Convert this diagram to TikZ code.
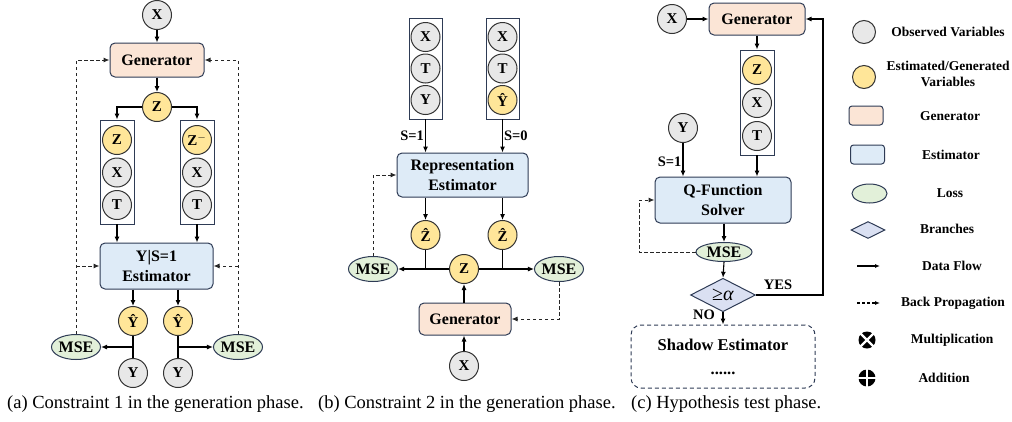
\documentclass[tikz,border=0pt]{standalone}
\usepackage{fontspec}
\setmainfont{Liberation Serif}
\usetikzlibrary{arrows.meta,shapes.geometric}

\definecolor{edgec}{HTML}{2E3B55}
\definecolor{obsfill}{HTML}{E8E8E8}
\definecolor{varfill}{HTML}{FFE699}
\definecolor{genfill}{HTML}{FBE5D6}
\definecolor{estfill}{HTML}{DEEBF7}
\definecolor{lossfill}{HTML}{E2F0D9}
\definecolor{brfill}{HTML}{DAE0F2}

\tikzset{
  obs/.style={circle, draw=black!80, fill=obsfill, line width=1pt,
    minimum size=29pt, inner sep=0pt, font=\fontsize{15}{15}\selectfont\bfseries},
  gvar/.style={obs, fill=varfill},
  colbox/.style={rectangle, draw=edgec, fill=white, line width=0.95pt, inner sep=0pt},
  genblk/.style={rectangle, rounded corners=5pt, draw=edgec, fill=genfill, line width=1pt,
    align=center, inner sep=0pt, font=\fontsize{16}{20}\selectfont\bfseries},
  estblk/.style={genblk, fill=estfill},
  loss/.style={ellipse, draw=edgec, fill=lossfill, line width=1pt, inner sep=0pt,
    minimum width=48pt, minimum height=25pt, font=\fontsize{16}{18}\selectfont\bfseries},
  branch/.style={diamond, draw=edgec, fill=brfill, line width=1pt, inner sep=0pt,
    font=\fontsize{20}{20}\selectfont},
  flow/.style={-{Latex[length=6pt,width=5pt]}, line width=1.1pt},
  back/.style={-{Latex[length=6pt,width=5pt]}, line width=1pt, draw=black!85,
    dash pattern=on 3.5pt off 2.5pt},
  lbl/.style={font=\fontsize{14.5}{16}\selectfont\bfseries, inner sep=1pt},
  legtxt/.style={font=\fontsize{13.5}{16}\selectfont\bfseries, align=center, inner sep=0pt},
  caption/.style={font=\fontsize{18.5}{20}\selectfont, anchor=west, inner sep=0pt},
}

\begin{document}
\begin{tikzpicture}[x=1pt, y=-1pt]
\useasboundingbox (0,0) rectangle (1012,421);

% ---------------- (a) Constraint 1 ----------------
\node[obs] (aX) at (157,15) {X};
\node[genblk, minimum width=94pt, minimum height=34pt] (aG) at (157,60) {Generator};
\node[gvar] (aZ) at (157,107) {Z};
\node[colbox, minimum width=34pt, minimum height=104pt] (aL) at (117,172) {};
\node[colbox, minimum width=34pt, minimum height=104pt] (aR) at (197,172) {};
\node[gvar] (aL1) at (117,140) {Z};
\node[obs]  (aL2) at (117,172.5) {X};
\node[obs]  (aL3) at (117,205) {T};
\node[gvar] (aR1) at (197,140) {Z$^{-}$};
\node[obs]  (aR2) at (197,172.5) {X};
\node[obs]  (aR3) at (197,205) {T};
\node[estblk, minimum width=113pt, minimum height=46pt] (aE) at (156.5,266) {Y|S=1\\Estimator};
\node[gvar] (aH1) at (133,321) {Ŷ};
\node[gvar] (aH2) at (178,321) {Ŷ};
\node[obs]  (aY1) at (133,373) {Y};
\node[obs]  (aY2) at (178,373) {Y};
\node[loss] (aM1) at (76,347) {MSE};
\node[loss] (aM2) at (238,347) {MSE};

\draw[flow] (aX) -- (aG);
\draw[flow] (aG) -- (aZ);
\draw[flow] (aZ.west) -| (aL.north);
\draw[flow] (aZ.east) -| (aR.north);
\draw[flow] (aL.south) -- (aL.south |- aE.north);
\draw[flow] (aR.south) -- (aR.south |- aE.north);
\draw[flow] (aE.south -| aH1) -- (aH1);
\draw[flow] (aE.south -| aH2) -- (aH2);
\draw[line width=1.1pt] (aH1) -- (aY1);
\draw[line width=1.1pt] (aH2) -- (aY2);
\draw[flow] (aH1 |- aM1) -- (aM1.east);
\draw[flow] (aH2 |- aM2) -- (aM2.west);
\draw[back] (aM1.north) -- (aM1.north |- aG.west) -- (aG.west);
\draw[back] (aM1.north |- aE.west) -- (aE.west);
\draw[back] (aM2.north) -- (aM2.north |- aG.east) -- (aG.east);
\draw[back] (aM2.north |- aE.east) -- (aE.east);

\node[caption] (capA) at (7,404) {(a) Constraint 1 in the generation phase.};

% ---------------- (b) Constraint 2 ----------------
\node[colbox, minimum width=33pt, minimum height=101pt] (bL) at (425.5,68.5) {};
\node[colbox, minimum width=33pt, minimum height=101pt] (bR) at (502.5,68.5) {};
\node[obs]  (bL1) at (425.5,37) {X};
\node[obs]  (bL2) at (425.5,68.5) {T};
\node[obs]  (bL3) at (425.5,100) {Y};
\node[obs]  (bR1) at (502.5,37) {X};
\node[obs]  (bR2) at (502.5,68.5) {T};
\node[gvar] (bR3) at (502.5,100) {Ŷ};
\node[estblk, minimum width=131pt, minimum height=44pt] (bE) at (462.5,175) {Representation\\Estimator};
\node[gvar] (bH1) at (425.5,235) {Ẑ};
\node[gvar] (bH2) at (502.5,235) {Ẑ};
\node[gvar] (bZ) at (464,269) {Z};
\node[loss] (bM1) at (373,269) {MSE};
\node[loss] (bM2) at (559,269) {MSE};
\node[genblk, minimum width=92pt, minimum height=32pt] (bG) at (465,319) {Generator};
\node[obs]  (bX) at (464,366) {X};

\draw[flow] (bL.south) -- (bL.south |- bE.north) node[lbl, midway, left] {S=1};
\draw[flow] (bR.south) -- (bR.south |- bE.north) node[lbl, midway, right] {S=0};
\draw[flow] (bE.south -| bH1) -- (bH1);
\draw[flow] (bE.south -| bH2) -- (bH2);
\draw[line width=1.1pt] (bH1) -- (bH1 |- bZ);
\draw[line width=1.1pt] (bH2) -- (bH2 |- bZ);
\draw[flow] (bZ.west) -- (bM1.east);
\draw[flow] (bZ.east) -- (bM2.west);
\draw[flow] (bG.north -| bZ) -- (bZ);
\draw[flow] (bX) -- (bX |- bG.south);
\draw[back] (bM2.south) |- (bG.east);
\draw[back] (bM1.north) |- (bE.west);

\node[caption] (capB) at (318,404) {(b) Constraint 2 in the generation phase.};

% ---------------- (c) Hypothesis test ----------------
\node[obs] (cX) at (672,19) {X};
\node[genblk, minimum width=96pt, minimum height=32pt] (cG) at (757,19) {Generator};
\node[colbox, minimum width=34pt, minimum height=105pt] (cC) at (757,102.5) {};
\node[gvar] (cC1) at (757,70) {Z};
\node[obs]  (cC2) at (757,103) {X};
\node[obs]  (cC3) at (757,136) {T};
\node[obs]  (cY) at (683,128) {Y};
\node[estblk, minimum width=136pt, minimum height=46pt] (cQ) at (723,200) {Q-Function\\Solver};
\node[loss, minimum width=56pt, minimum height=19pt] (cM) at (724,252) {MSE};
\node[branch, minimum width=65pt, minimum height=26pt] (cD) at (723,295) {≥\textit{α}};
\node[rectangle, rounded corners=10pt, draw=edgec, line width=1pt, dash pattern=on 4pt off 3pt,
  minimum width=184pt, minimum height=63pt, align=center,
  font=\fontsize{16.5}{24}\selectfont\bfseries] (cS) at (723,356.5) {Shadow Estimator\\......};
\coordinate (cBk) at (639,252);
\coordinate (cYes) at (823,295);

\draw[flow] (cX) -- (cG);
\draw[flow] (cG.south) -- (cC.north);
\draw[flow] (cC.south) -- (cC.south |- cQ.north);
\draw[flow] (cY) -- (cY |- cQ.north) node[lbl, pos=0.55, left] {S=1};
\draw[flow] (cQ.south -| cM) -- (cM.north);
\draw[back] (cM.west) -- (cBk) |- (cQ.west);
\draw[flow] (cM.south) -- (cD.north);
\draw[flow] (cD.east) -- (cYes) |- (cG.east);
\node[lbl] (cYesL) at (778,285) {YES};
\draw[flow] (cD.south) -- (cS.north);
\node[lbl] (cNoL) at (704,315) {NO};

\node[caption] (capC) at (631,404) {(c) Hypothesis test phase.};

% ---------------- legend ----------------
\node[obs, minimum size=23pt] (lgObs) at (864,32) {};
\node[gvar, minimum size=23pt] (lgVar) at (864,77) {};
\node[genblk, rounded corners=3pt, minimum width=34pt, minimum height=19pt] (lgGen) at (866,115.5) {};
\node[estblk, rounded corners=3pt, minimum width=34pt, minimum height=19pt] (lgEst) at (867.5,154.5) {};
\node[loss, minimum width=35pt, minimum height=19pt] (lgLoss) at (869.5,193.5) {};
\node[branch, minimum width=34pt, minimum height=17pt] (lgBr) at (868,230) {};
\coordinate (lgF1) at (857,266);
\coordinate (lgF2) at (880,266);
\coordinate (lgB1) at (857,303);
\coordinate (lgB2) at (880,303);
\draw[-{Latex[length=5pt,width=4pt]}, line width=1.1pt] (lgF1) -- (lgF2);
\draw[-{Latex[length=5pt,width=4pt]}, line width=1.1pt, dash pattern=on 3pt off 2pt] (lgB1) -- (lgB2);
\node[circle, fill=black, minimum size=17pt, inner sep=0pt] (lgMul) at (867,340) {};
\draw[white, line width=2.4pt] ([shift={(-6.5,-6.5)}]lgMul.center) -- ([shift={(6.5,6.5)}]lgMul.center);
\draw[white, line width=2.4pt] ([shift={(-6.5,6.5)}]lgMul.center) -- ([shift={(6.5,-6.5)}]lgMul.center);
\node[circle, fill=black, minimum size=17pt, inner sep=0pt] (lgAdd) at (867,378) {};
\draw[white, line width=2.4pt] ([shift={(-9,0)}]lgAdd.center) -- ([shift={(9,0)}]lgAdd.center);
\draw[white, line width=2.4pt] ([shift={(0,-9)}]lgAdd.center) -- ([shift={(0,9)}]lgAdd.center);

\node[legtxt] (ltObs) at (948,32) {Observed Variables};
\node[legtxt] (ltVar) at (948,74) {Estimated/Generated\\Variables};
\node[legtxt] (ltGen) at (950,116) {Generator};
\node[legtxt] (ltEst) at (951,155) {Estimator};
\node[legtxt] (ltLoss) at (950,193) {Loss};
\node[legtxt] (ltBr) at (947,229) {Branches};
\node[legtxt] (ltFlow) at (952,266) {Data Flow};
\node[legtxt] (ltBack) at (953,303) {Back Propagation};
\node[legtxt] (ltMul) at (952,340) {Multiplication};
\node[legtxt] (ltAdd) at (944,378) {Addition};
\end{tikzpicture}
\end{document}
